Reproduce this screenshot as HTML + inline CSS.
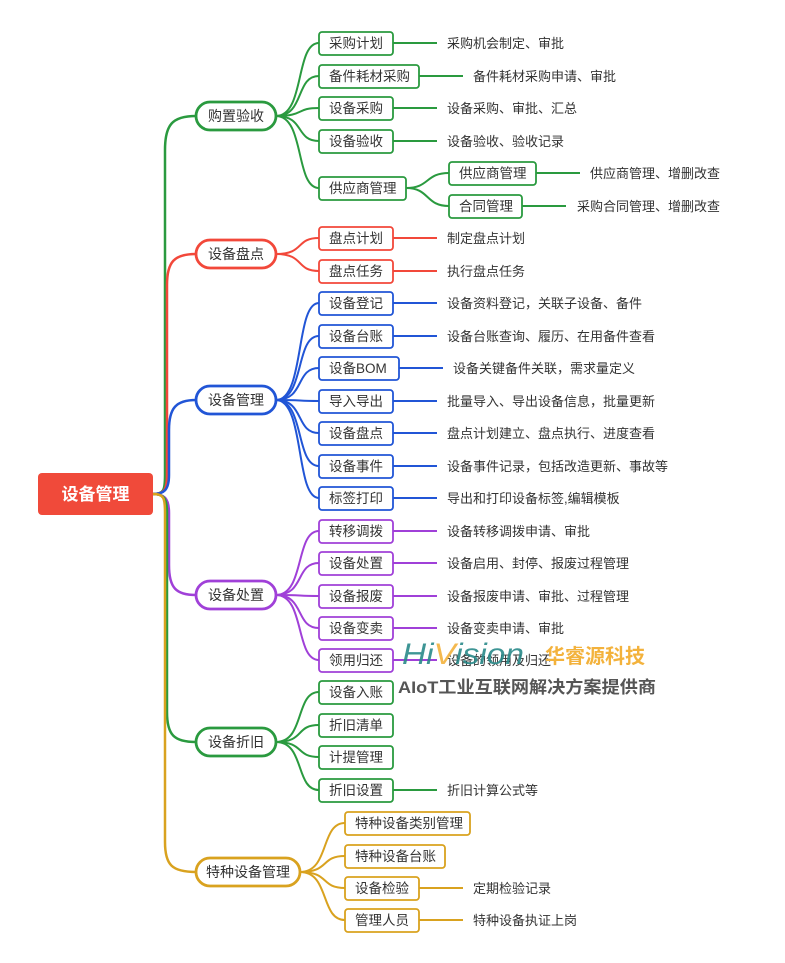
<!DOCTYPE html>
<html><head><meta charset="utf-8"><style>
html,body{margin:0;padding:0;background:#fff;}
svg text{font-family:"Liberation Sans","Noto Sans CJK SC",sans-serif;}
.l{font-size:13.5px;fill:#333;}
.d{font-size:13px;fill:#333;}
.c{font-size:14px;fill:#333;}
</style></head><body>
<svg width="785" height="958" viewBox="0 0 785 958" xmlns="http://www.w3.org/2000/svg">
<g fill="none" stroke-width="2.5">
<path d="M153 494 C164 494,165 490,165 475 V150 C165 125,172 116,196 116" stroke="#2a9a3f"/>
<path d="M153 494 C164 494,167 490,167 475 V285 C167 262,174 254,196 254" stroke="#f2483a"/>
<path d="M153 494 C164 494,169 490,169 475 V430 C169 408,176 400,196 400" stroke="#2155d6"/>
<path d="M153 494 C164 494,169 498,169 513 V565 C169 588,176 595,196 595" stroke="#a040d8"/>
<path d="M153 494 C164 494,167 498,167 513 V712 C167 735,174 742,196 742" stroke="#2a9a3f"/>
<path d="M153 494 C164 494,165 498,165 513 V842 C165 865,172 872,196 872" stroke="#d9a21f"/>
</g>
<g fill="none" stroke-width="2" stroke="#2a9a3f">
<path d="M276 116 C305 116,295 43,319 43"/><path d="M276 116 C305 116,295 76,319 76"/>
<path d="M276 116 C305 116,295 108,319 108"/><path d="M276 116 C305 116,295 141,319 141"/>
<path d="M276 116 C305 116,295 188,319 188"/>
<path d="M393 43H437M419 76H463M393 108H437M393 141H437"/>
<path d="M406 188 C430 188,425 173,449 173"/><path d="M406 188 C430 188,425 206,449 206"/>
<path d="M536 173H580M522 206H566"/>
<path d="M276 742 C305 742,295 692,319 692"/><path d="M276 742 C305 742,295 725,319 725"/>
<path d="M276 742 C305 742,295 757,319 757"/><path d="M276 742 C305 742,295 790,319 790"/>
<path d="M393 790H437"/>
</g>
<g fill="none" stroke-width="2" stroke="#f2483a">
<path d="M276 254 C305 254,295 238,319 238"/><path d="M276 254 C305 254,295 271,319 271"/>
<path d="M393 238H437M393 271H437"/>
</g>
<g fill="none" stroke-width="2" stroke="#2155d6">
<path d="M276 400 C305 400,295 303,319 303"/><path d="M276 400 C305 400,295 336,319 336"/>
<path d="M276 400 C305 400,295 368,319 368"/><path d="M276 400 C305 400,295 401,319 401"/>
<path d="M276 400 C305 400,295 433,319 433"/><path d="M276 400 C305 400,295 466,319 466"/>
<path d="M276 400 C305 400,295 498,319 498"/>
<path d="M393 303H437M393 336H437M399 368H443M393 401H437M393 433H437M393 466H437M393 498H437"/>
</g>
<g fill="none" stroke-width="2" stroke="#a040d8">
<path d="M276 595 C305 595,295 531,319 531"/><path d="M276 595 C305 595,295 563,319 563"/>
<path d="M276 595 C305 595,295 596,319 596"/><path d="M276 595 C305 595,295 628,319 628"/>
<path d="M276 595 C305 595,295 660,319 660"/>
<path d="M393 531H437M393 563H437M393 596H437M393 628H437M393 660H437"/>
</g>
<g fill="none" stroke-width="2" stroke="#d9a21f">
<path d="M300 872 C330 872,320 823,345 823"/><path d="M300 872 C330 872,320 856,345 856"/>
<path d="M300 872 C330 872,320 888,345 888"/><path d="M300 872 C330 872,320 920,345 920"/>
<path d="M419 888H463M419 920H463"/>
</g>
<rect x="38" y="473" width="115" height="42" rx="4" fill="#f04a3a"/>
<text x="95.5" y="500" text-anchor="middle" font-size="17" font-weight="bold" fill="#fff">设备管理</text>
<g fill="#fff" stroke-width="2.8">
<rect x="196" y="102" width="80" height="28" rx="14" stroke="#2a9a3f"/>
<rect x="196" y="240" width="80" height="28" rx="14" stroke="#f2483a"/>
<rect x="196" y="386" width="80" height="28" rx="14" stroke="#2155d6"/>
<rect x="196" y="581" width="80" height="28" rx="14" stroke="#a040d8"/>
<rect x="196" y="728" width="80" height="28" rx="14" stroke="#2a9a3f"/>
<rect x="196" y="858" width="104" height="28" rx="14" stroke="#d9a21f"/>
</g>
<g class="c" text-anchor="middle">
<text x="236" y="121" class="c">购置验收</text><text x="236" y="259" class="c">设备盘点</text>
<text x="236" y="405" class="c">设备管理</text><text x="236" y="600" class="c">设备处置</text>
<text x="236" y="747" class="c">设备折旧</text><text x="248" y="877" class="c">特种设备管理</text>
</g>
<g fill="#fff" stroke-width="1.8">
<g stroke="#2a9a3f">
<rect x="319" y="32" width="74" height="23" rx="3"/><rect x="319" y="65" width="100" height="23" rx="3"/>
<rect x="319" y="97" width="74" height="23" rx="3"/><rect x="319" y="130" width="74" height="23" rx="3"/>
<rect x="319" y="177" width="87" height="23" rx="3"/><rect x="449" y="162" width="87" height="23" rx="3"/>
<rect x="449" y="195" width="73" height="23" rx="3"/>
<rect x="319" y="681" width="74" height="23" rx="3"/><rect x="319" y="714" width="74" height="23" rx="3"/>
<rect x="319" y="746" width="74" height="23" rx="3"/><rect x="319" y="779" width="74" height="23" rx="3"/>
</g>
<g stroke="#f2483a">
<rect x="319" y="227" width="74" height="23" rx="3"/><rect x="319" y="260" width="74" height="23" rx="3"/>
</g>
<g stroke="#2155d6">
<rect x="319" y="292" width="74" height="23" rx="3"/><rect x="319" y="325" width="74" height="23" rx="3"/>
<rect x="319" y="357" width="80" height="23" rx="3"/><rect x="319" y="390" width="74" height="23" rx="3"/>
<rect x="319" y="422" width="74" height="23" rx="3"/><rect x="319" y="455" width="74" height="23" rx="3"/>
<rect x="319" y="487" width="74" height="23" rx="3"/>
</g>
<g stroke="#a040d8">
<rect x="319" y="520" width="74" height="23" rx="3"/><rect x="319" y="552" width="74" height="23" rx="3"/>
<rect x="319" y="585" width="74" height="23" rx="3"/><rect x="319" y="617" width="74" height="23" rx="3"/>
<rect x="319" y="649" width="74" height="23" rx="3"/>
</g>
<g stroke="#d9a21f">
<rect x="345" y="812" width="125" height="23" rx="3"/><rect x="345" y="845" width="100" height="23" rx="3"/>
<rect x="345" y="877" width="74" height="23" rx="3"/><rect x="345" y="909" width="74" height="23" rx="3"/>
</g>
</g>
<g class="l">
<text x="329" y="48">采购计划</text><text x="329" y="81">备件耗材采购</text>
<text x="329" y="113">设备采购</text><text x="329" y="146">设备验收</text>
<text x="329" y="193">供应商管理</text><text x="459" y="178">供应商管理</text><text x="459" y="211">合同管理</text>
<text x="329" y="243">盘点计划</text><text x="329" y="276">盘点任务</text>
<text x="329" y="308">设备登记</text><text x="329" y="341">设备台账</text><text x="329" y="373">设备BOM</text>
<text x="329" y="406">导入导出</text><text x="329" y="438">设备盘点</text><text x="329" y="471">设备事件</text>
<text x="329" y="503">标签打印</text>
<text x="329" y="536">转移调拨</text><text x="329" y="568">设备处置</text><text x="329" y="601">设备报废</text>
<text x="329" y="633">设备变卖</text><text x="329" y="665">领用归还</text>
<text x="329" y="697">设备入账</text><text x="329" y="730">折旧清单</text><text x="329" y="762">计提管理</text>
<text x="329" y="795">折旧设置</text>
<text x="355" y="828">特种设备类别管理</text><text x="355" y="861">特种设备台账</text>
<text x="355" y="893">设备检验</text><text x="355" y="925">管理人员</text>
</g>
<g class="d">
<text x="447" y="48">采购机会制定、审批</text><text x="473" y="81">备件耗材采购申请、审批</text>
<text x="447" y="113">设备采购、审批、汇总</text><text x="447" y="146">设备验收、验收记录</text>
<text x="590" y="178">供应商管理、增删改查</text><text x="577" y="211">采购合同管理、增删改查</text>
<text x="447" y="243">制定盘点计划</text><text x="447" y="276">执行盘点任务</text>
<text x="447" y="308">设备资料登记，关联子设备、备件</text><text x="447" y="341">设备台账查询、履历、在用备件查看</text>
<text x="453" y="373">设备关键备件关联，需求量定义</text><text x="447" y="406">批量导入、导出设备信息，批量更新</text>
<text x="447" y="438">盘点计划建立、盘点执行、进度查看</text><text x="447" y="471">设备事件记录，包括改造更新、事故等</text>
<text x="447" y="503">导出和打印设备标签,编辑模板</text>
<text x="447" y="536">设备转移调拨申请、审批</text><text x="447" y="568">设备启用、封停、报废过程管理</text>
<text x="447" y="601">设备报废申请、审批、过程管理</text><text x="447" y="633">设备变卖申请、审批</text>
<text x="447" y="665">设备的领用及归还</text>
<text x="447" y="795">折旧计算公式等</text>
<text x="473" y="893">定期检验记录</text><text x="473" y="925">特种设备执证上岗</text>
</g>
<text x="402" y="664" font-size="30" font-style="italic" fill="#2a8a8a" opacity="0.9" textLength="122" lengthAdjust="spacingAndGlyphs">Hi<tspan fill="#f3b23c">V</tspan>ision</text>
<text x="545" y="663" font-size="20" fill="#f3b23c" font-weight="bold">华睿源科技</text>
<text x="398" y="693" font-size="17" font-weight="bold" fill="#555" textLength="258" lengthAdjust="spacingAndGlyphs">AIoT工业互联网解决方案提供商</text>
</svg>
</body></html>
